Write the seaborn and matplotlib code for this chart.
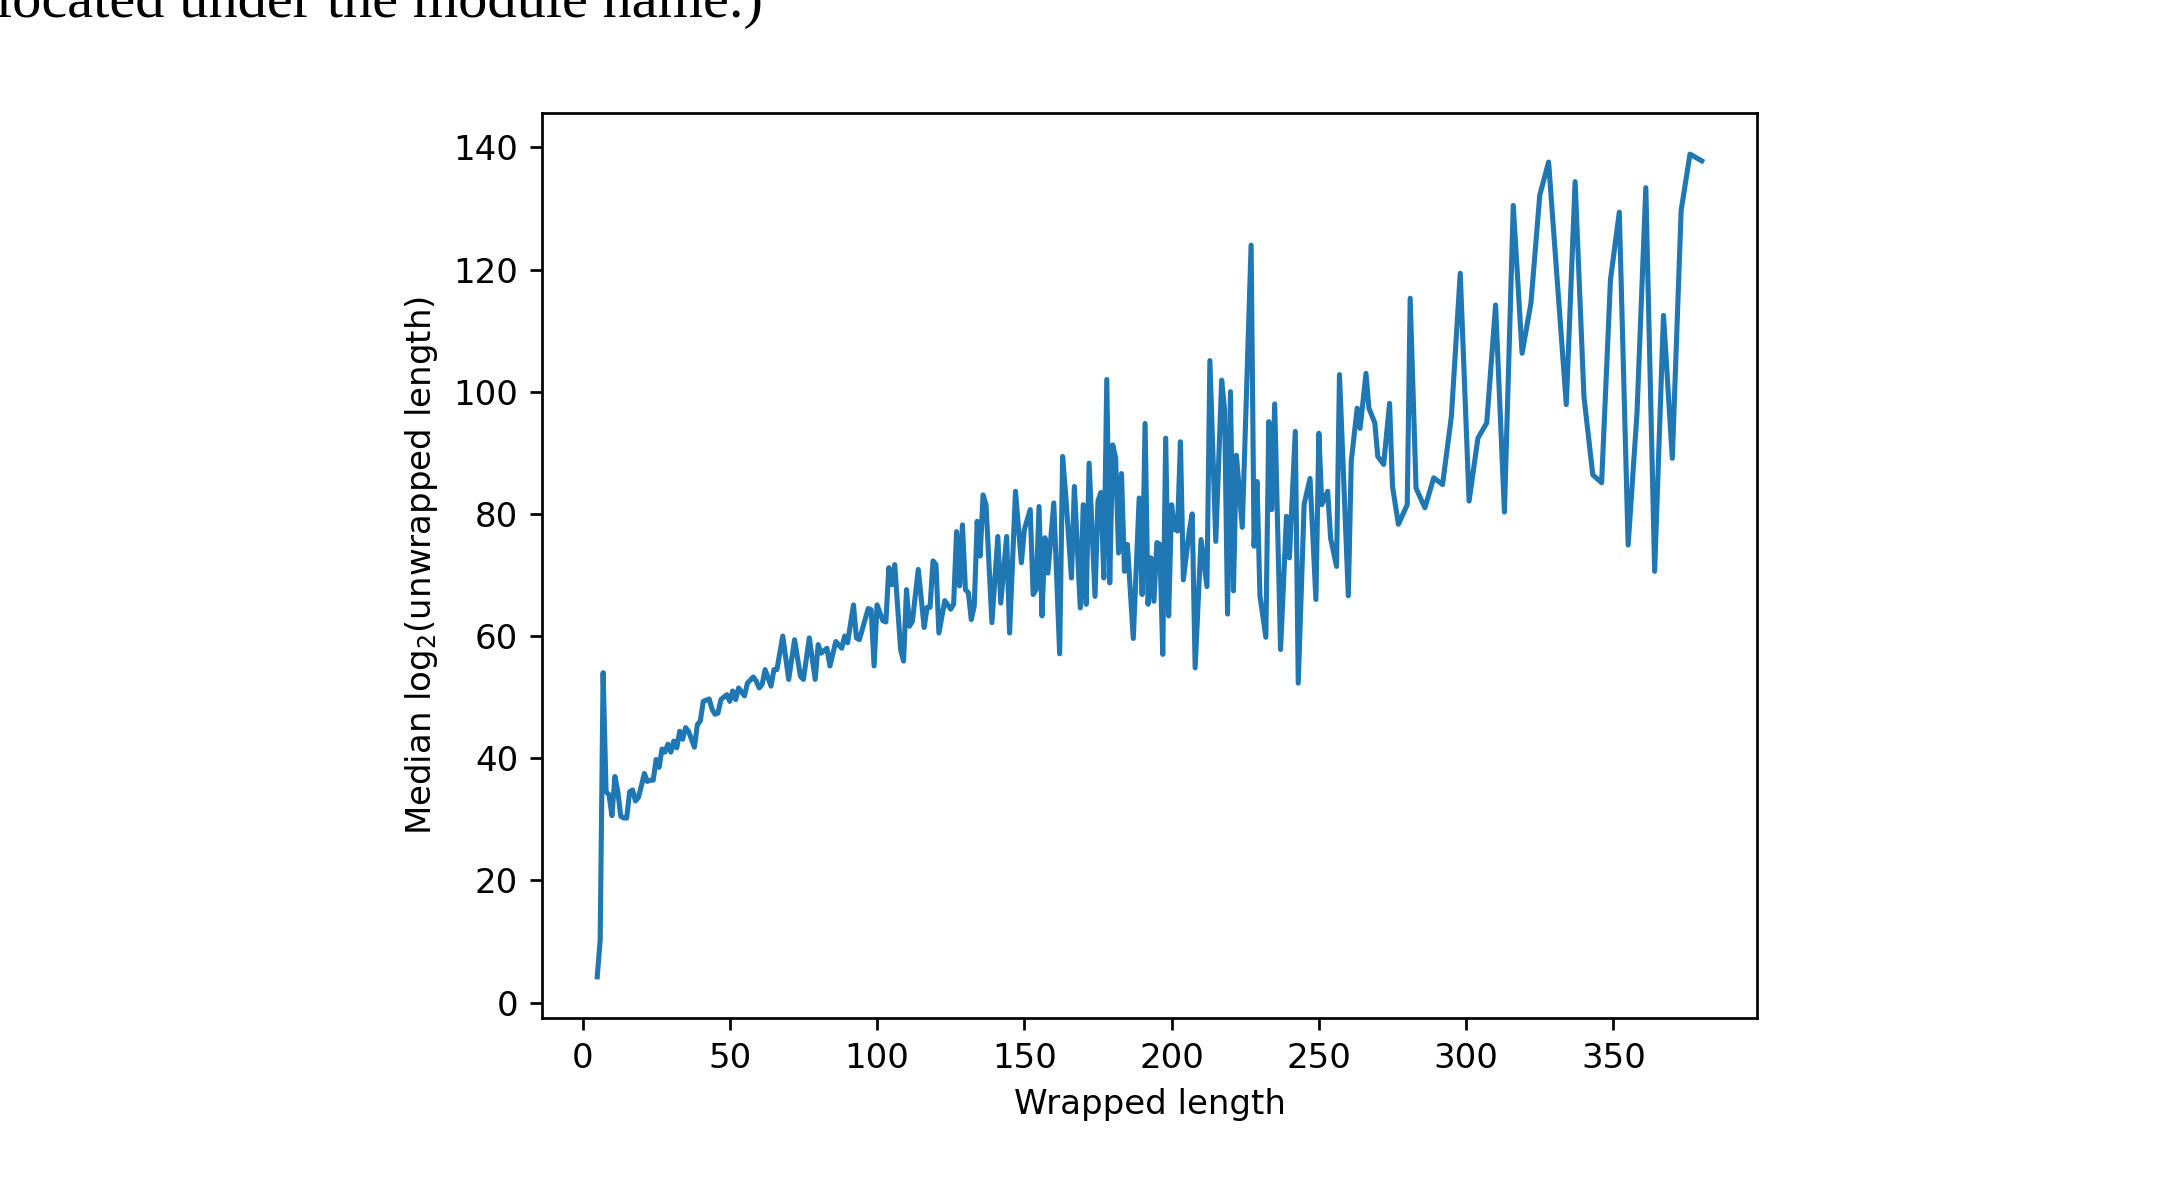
import matplotlib
matplotlib.use("Agg")
import matplotlib.pyplot as plt
import pandas as pd
import seaborn as sns

# wrapped length -> median log2(unwrapped length)
wrapped_len = [
    5, 6, 7, 8, 9, 10, 11, 12, 13, 14, 15, 16, 17, 18, 19, 20, 21, 22, 23, 24,
    25, 26, 27, 28, 29, 30, 31, 32, 33, 34, 35, 36, 37, 38, 39, 40, 41, 42, 43, 44,
    45, 46, 47, 48, 49, 50, 51, 52, 53, 55, 56, 58, 59, 60, 61, 62, 64, 65, 66, 68,
    70, 72, 74, 75, 77, 79, 80, 81, 83, 84, 86, 88, 89, 90, 92, 93, 94, 97, 98, 99,
    100, 102, 103, 104, 105, 106, 108, 109, 110, 111, 112, 114, 116, 117, 118, 119, 120, 121, 123, 125,
    126, 127, 128, 129, 130, 131, 132, 133, 134, 135, 136, 137, 139, 141, 142, 144, 145, 147, 149, 150,
    152, 153, 154, 155, 156, 157, 158, 160, 162, 163, 164, 166, 167, 169, 170, 171, 172, 174, 175, 176,
    177, 178, 179, 180, 181, 182, 183, 184, 185, 187, 189, 190, 191, 192, 193, 194, 195, 196, 197, 198,
    199, 200, 201, 202, 203, 204, 206, 207, 208, 210, 212, 213, 215, 217, 218, 219, 220, 221, 222, 224,
    227, 228, 229, 230, 232, 233, 234, 235, 237, 239, 240, 242, 243, 245, 247, 249, 250, 251, 253, 254,
    256, 257, 260, 261, 263, 264, 266, 267, 269, 270, 272, 274, 275, 277, 280, 281, 283, 286, 289, 292,
    295, 298, 301, 304, 307, 310, 313, 316, 319, 322, 325, 328, 331, 334, 337, 340, 343, 346, 349, 352,
    355, 358, 361, 364, 367, 370, 373, 376, 380,
]
median_log2 = [
    4.2, 10.2, 54.0, 34.5, 34.0, 30.6, 37.0, 34.5, 30.5, 30.2, 30.2, 34.5, 34.8, 33.0, 33.6, 35.5, 37.5, 36.2, 36.4, 36.4,
    39.8, 38.5, 41.5, 41.0, 42.3, 41.0, 42.8, 41.7, 44.4, 43.1, 45.0, 44.4, 43.1, 41.8, 45.5, 46.1, 49.3, 49.5, 49.7, 48.0,
    47.2, 47.4, 49.6, 50.0, 50.4, 49.3, 51.0, 49.6, 51.5, 50.2, 52.3, 53.3, 52.6, 51.5, 52.1, 54.5, 51.8, 54.5, 54.5, 60.0,
    52.9, 59.4, 53.4, 52.9, 59.7, 52.9, 58.6, 57.2, 58.0, 55.1, 59.1, 58.0, 60.0, 58.9, 65.1, 59.7, 59.4, 64.5, 64.3, 55.1,
    65.1, 62.5, 62.3, 71.2, 68.4, 71.7, 57.8, 55.9, 67.6, 61.6, 62.4, 70.9, 61.4, 64.7, 64.7, 72.3, 71.7, 60.5, 65.8, 64.4,
    65.2, 77.1, 68.2, 78.2, 67.6, 67.1, 62.7, 64.9, 78.8, 73.1, 83.1, 81.5, 62.2, 76.3, 65.4, 76.3, 60.5, 83.7, 72.0, 77.4,
    80.7, 66.8, 67.6, 81.2, 63.3, 76.1, 70.3, 81.8, 57.1, 89.4, 83.4, 69.5, 84.5, 64.6, 81.5, 65.2, 88.3, 66.5, 82.1, 83.5,
    69.5, 102.0, 68.7, 91.3, 89.2, 73.6, 86.6, 70.6, 75.0, 59.6, 82.6, 66.8, 94.8, 65.2, 72.8, 65.7, 75.3, 75.0, 57.0, 92.4,
    63.3, 81.5, 77.5, 77.2, 91.8, 69.2, 77.2, 80.0, 54.8, 75.8, 68.1, 105.1, 75.5, 101.9, 97.0, 63.6, 100.0, 67.4, 89.6, 77.8,
    124.0, 74.7, 85.3, 66.6, 59.8, 95.1, 80.7, 98.0, 57.8, 79.6, 72.8, 93.5, 52.3, 81.6, 85.8, 66.0, 93.2, 81.5, 83.7, 76.0,
    71.4, 102.8, 66.6, 88.6, 97.3, 94.0, 103.0, 97.3, 94.9, 89.4, 88.1, 98.1, 84.5, 78.3, 81.5, 115.3, 84.2, 81.0, 85.9, 84.8,
    96.0, 119.4, 82.1, 92.4, 94.9, 114.2, 80.3, 130.5, 106.3, 114.5, 132.2, 137.6, 117.7, 97.9, 134.4, 99.2, 86.4, 85.1, 118.3, 129.4,
    74.9, 96.4, 133.4, 70.6, 112.5, 89.1, 129.7, 138.9, 137.8,
]

S = 2.45  # the figure was rendered at a larger scale than default

df = pd.DataFrame({"wrapped": wrapped_len, "median": median_log2})

plt.rcParams["font.family"] = ["DejaVu Sans"]
plt.rcParams["font.size"] = 10 * S

fig = plt.figure(figsize=(21.6, 12), dpi=100)
ax = fig.add_axes([542 / 2160, 1 - 1018 / 1200, (1757 - 542) / 2160, (1018 - 113) / 1200])

sns.lineplot(data=df, x="wrapped", y="median", ax=ax, color="#1f77b4",
             linewidth=1.5 * S, estimator=None, sort=False)

ax.set_xlabel("Wrapped length", labelpad=4 * S)
ax.set_ylabel("Median log$_2$(unwrapped length)", labelpad=4 * S)
ax.set_xticks([0, 50, 100, 150, 200, 250, 300, 350])
ax.set_yticks([0, 20, 40, 60, 80, 100, 120, 140])
ax.tick_params(length=3.5 * S, width=0.8 * S, pad=3.5 * S, labelsize=10 * S)
for sp in ax.spines.values():
    sp.set_linewidth(0.8 * S)

# leftover line of the surrounding document text
fig.text(-0.002, 1 - 17 / 1200, "located under the module name.)",
         family=["Liberation Serif", "DejaVu Serif"], fontsize=42, va="baseline", ha="left")

fig.savefig("out.png", dpi=100)
plt.close(fig)
